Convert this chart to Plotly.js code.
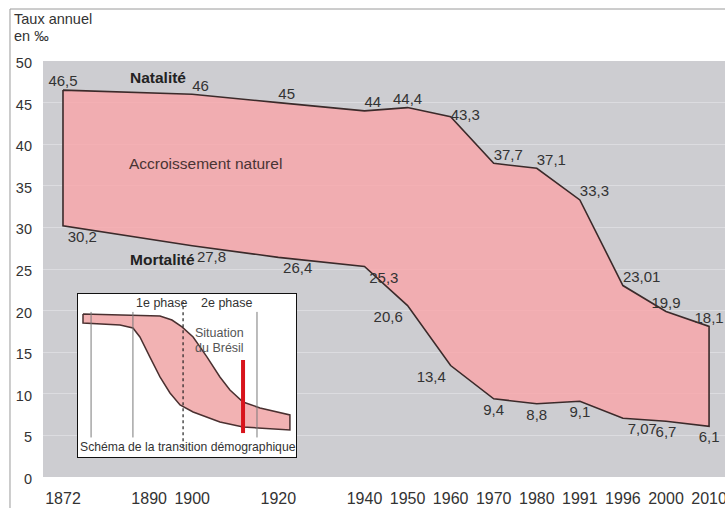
<!DOCTYPE html>
<html><head><meta charset="utf-8">
<script src="https://cdn.plot.ly/plotly-3.0.1.min.js"></script>
<style>html,body{margin:0;padding:0;background:#fff}#chart{width:725px;height:508px}</style>
</head><body><div id="chart"></div>
<script>
// ---- data ----
const slotYears = ['1872','1880','1890','1900','1910','1920','1930','1940','1950','1960','1970','1980','1991','1996','2000','2010'];
const tickYears = ['1872','1890','1900','1920','1940','1950','1960','1970','1980','1991','1996','2000','2010'];
const dataYears = ['1872','1900','1920','1940','1950','1960','1970','1980','1991','1996','2000','2010'];
const natalite  = [46.5, 46, 45, 44, 44.4, 43.3, 37.7, 37.1, 33.3, 23.01, 19.9, 18.1];
const mortalite = [30.2, 27.8, 26.4, 25.3, 20.6, 13.4, 9.4, 8.8, 9.1, 7.07, 6.7, 6.1];
const natPos  = ['top center','top right','top right','top right','top center','middle right','top right','top right','top right','top right','top center','top center'];
const mortPos = ['bottom right','bottom right','bottom right','bottom right','bottom left','bottom left','bottom center','bottom center','bottom center','bottom right','bottom center','bottom center'];

// inset schematic (0-100 units)
const schemaNatX = [2.3, 23.9, 37.6, 43.1, 47.7, 52.8, 59.2, 65.1, 69.7, 75.7, 83.5, 97.2];
const schemaNatY = [87.7, 87.1, 86.5, 84.0, 79.8, 73.6, 61.3, 49.1, 41.1, 33.7, 30.1, 25.8];
const schemaMortX = [2.3, 19.3, 25.2, 28.4, 33.0, 37.6, 42.2, 46.8, 52.8, 65.1, 75.7, 97.2];
const schemaMortY = [82.2, 81.0, 79.1, 73.6, 61.3, 49.1, 39.3, 31.9, 27.6, 21.5, 18.4, 16.6];
const schemaPhaseX = [6.0, 25.2, 82.1];
const schemaPhaseY = [12, 89];
const schemaDottedX = 48.2;
const schemaDottedY = [6, 95];
const bresilX = 75.7;
const bresilY = [14.7, 59.5];

const fmt = v => String(v).replace('.', ',');
const FONT = '"Liberation Sans", Arial, Helvetica, sans-serif';
const TXT = '#333333';

// closed polygon between the two curves
const polyX = dataYears.concat(dataYears.slice().reverse(), [dataYears[0]]);
const polyY = natalite.concat(mortalite.slice().reverse(), [natalite[0]]);

const phaseLX = [], phaseLY = [];
schemaPhaseX.forEach(v => { phaseLX.push(v, v, null); phaseLY.push(schemaPhaseY[0], schemaPhaseY[1], null); });

const insetPolyX = schemaNatX.concat(schemaMortX.slice().reverse(), [schemaNatX[0]]);
const insetPolyY = schemaNatY.concat(schemaMortY.slice().reverse(), [schemaNatY[0]]);

const traces = [
  {x: polyX, y: polyY, type: 'scatter', mode: 'lines', fill: 'toself',
   fillcolor: 'rgba(252,161,165,0.75)', line: {color: '#3b2a2a', width: 1.6}, hoverinfo: 'skip', showlegend: false},
  {x: dataYears, y: natalite, type: 'scatter', mode: 'text', text: natalite.map(fmt),
   textposition: natPos, textfont: {family: FONT, size: 15, color: TXT}, showlegend: false, cliponaxis: false},
  {x: dataYears, y: mortalite, type: 'scatter', mode: 'markers+text', text: mortalite.map(fmt),
   marker: {size: 6, color: 'rgba(0,0,0,0)'},
   textposition: mortPos, textfont: {family: FONT, size: 15, color: TXT}, showlegend: false, cliponaxis: false},
  // inset
  {x: insetPolyX, y: insetPolyY, xaxis: 'x2', yaxis: 'y2', type: 'scatter', mode: 'lines', fill: 'toself',
   fillcolor: '#f2b2b3', line: {color: '#4a3030', width: 1.5}, showlegend: false, hoverinfo: 'skip'},
  {x: phaseLX, y: phaseLY, xaxis: 'x2', yaxis: 'y2', type: 'scatter', mode: 'lines',
   line: {color: '#7a7a7a', width: 1}, showlegend: false, hoverinfo: 'skip'},
  {x: [schemaDottedX, schemaDottedX], y: schemaDottedY, xaxis: 'x2', yaxis: 'y2', type: 'scatter', mode: 'lines',
   line: {color: '#222', width: 1.2, dash: 'dot'}, showlegend: false, hoverinfo: 'skip'},
  {x: [bresilX, bresilX], y: bresilY, xaxis: 'x2', yaxis: 'y2', type: 'scatter', mode: 'lines',
   line: {color: '#d8141c', width: 4}, showlegend: false, hoverinfo: 'skip'}
];

const layout = {
  width: 725, height: 508,
  margin: {l: 43, r: 0, t: 61, b: 31},
  paper_bgcolor: '#ffffff', plot_bgcolor: '#cdcdd1',
  font: {family: FONT, color: TXT},
  xaxis: {type: 'category', categoryorder: 'array', categoryarray: slotYears,
    range: [-0.464, 15.37], tickmode: 'array', tickvals: tickYears, ticktext: tickYears,
    showgrid: false, zeroline: false, showline: false, ticks: '',
    tickfont: {size: 16, color: TXT}, ticklabelstandoff: 10},
  yaxis: {range: [0, 50], dtick: 5, tick0: 0, showgrid: true, gridcolor: '#dcdce0', gridwidth: 1,
    zeroline: false, showline: false, ticks: '', tickfont: {size: 14.5, color: TXT},
    ticklabelstandoff: 10, ticklabelshift: 2},
  xaxis2: {domain: [0.0513, 0.371], anchor: 'y2', range: [0, 100], showgrid: false, zeroline: false,
    showticklabels: false, ticks: '', showline: true, mirror: true, linecolor: '#111', linewidth: 1},
  yaxis2: {domain: [0.048, 0.44], anchor: 'x2', range: [0, 100], showgrid: false, zeroline: false,
    showticklabels: false, ticks: '', showline: true, mirror: true, linecolor: '#111', linewidth: 1},
  shapes: [
    {type: 'rect', xref: 'x2', yref: 'y2', x0: 0, x1: 100, y0: 0, y1: 100, layer: 'below',
     fillcolor: '#ffffff', line: {width: 0}},
    {type: 'rect', xref: 'paper', yref: 'paper', x0: -0.0484, x1: 1.05, y0: -0.3, y1: 1.125,
     line: {color: '#9a9a9a', width: 1}, fillcolor: 'rgba(0,0,0,0)', layer: 'above'}
  ],
  annotations: [
    {xref: 'paper', yref: 'paper', x: -0.0455, y: 1.1, xanchor: 'left', yanchor: 'middle', showarrow: false,
     text: 'Taux annuel', font: {size: 14.5, color: TXT}},
    {xref: 'paper', yref: 'paper', x: -0.0455, y: 1.06, xanchor: 'left', yanchor: 'middle', showarrow: false,
     text: 'en ‰', font: {size: 14.5, color: TXT}},
    {xref: 'x', yref: 'y', x: 2.2, y: 48.0, showarrow: false, text: '<b>Natalité</b>', font: {size: 15.5, color: '#222'}},
    {xref: 'x', yref: 'y', x: 2.3, y: 26.1, showarrow: false, text: '<b>Mortalité</b>', font: {size: 15.5, color: '#222'}},
    {xref: 'x', yref: 'y', x: 3.3, y: 37.7, showarrow: false, text: 'Accroissement naturel', font: {size: 15.5, color: '#4a3434'}},
    {xref: 'x2', yref: 'y2', x: 38.5, y: 94.5, showarrow: false, text: '1e phase', font: {size: 12.5, color: TXT}},
    {xref: 'x2', yref: 'y2', x: 68.3, y: 94.5, showarrow: false, text: '2e phase', font: {size: 12.5, color: TXT}},
    {xref: 'x2', yref: 'y2', x: 65.1, y: 76, showarrow: false, text: 'Situation', font: {size: 12.5, color: '#555'}},
    {xref: 'x2', yref: 'y2', x: 65.1, y: 66.9, showarrow: false, text: 'du Brésil', font: {size: 12.5, color: '#555'}},
    {xref: 'x2', yref: 'y2', x: 50.5, y: 6.1, showarrow: false, text: 'Schéma de la transition démographique', font: {size: 12.2, color: TXT}}
  ]
};

Plotly.newPlot('chart', traces, layout, {displayModeBar: false, staticPlot: true});
</script>
</body></html>
